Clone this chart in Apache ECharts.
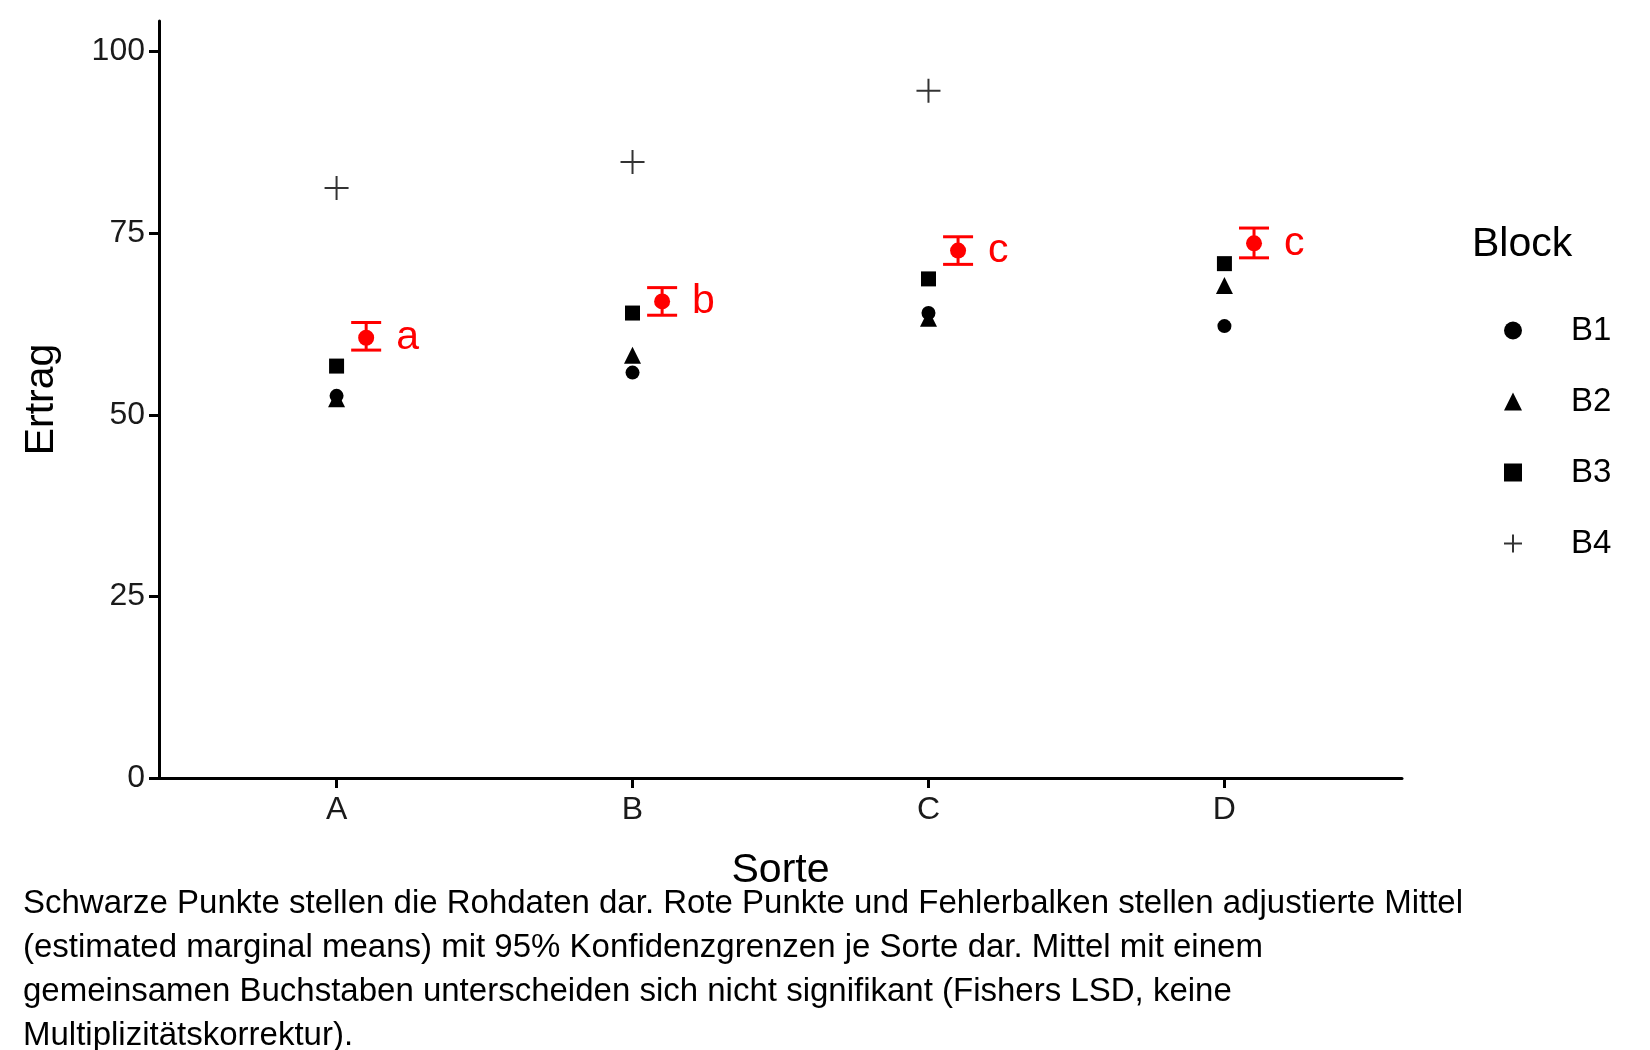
<!DOCTYPE html>
<html>
<head>
<meta charset="UTF-8">
<script src="https://cdn.jsdelivr.net/npm/echarts@6/dist/echarts.min.js"></script>
<style>body{margin:0;background:#fff}</style>
</head>
<body>
<div id="main" style="width:1650px;height:1050px;"></div>
<script>
    var sorten = ['A', 'B', 'C', 'D']
    var b1 = [52.6, 55.8, 64.0, 62.2]
    var b2 = [52.2, 58.2, 63.3, 67.8]
    var b3 = [56.7, 64.0, 68.7, 70.8]
    var b4 = [81.2, 84.8, 94.6, null]
    var emmean = [60.6, 65.6, 72.6, 73.6]
    var lower = [58.9, 63.7, 70.7, 71.6]
    var upper = [62.7, 67.5, 74.5, 75.7]
    var letters = ['a', 'b', 'c', 'c']

    var font = 'Liberation Sans, Arial, sans-serif'
    var plus = 'path://M0,-10V10M-10,0H10'

    function pts(arr) {
        var out = []
        arr.forEach(function (v, i) { if (v != null) out.push([i + 1, v]) })
        return out
    }
    function block(name, arr, symbol, size) {
        var isPlus = symbol === plus
        return {
            name: name, type: 'scatter', data: pts(arr), symbol: symbol, symbolSize: size,
            itemStyle: isPlus ? {color: 'transparent', borderColor: '#000', borderWidth: 2} : {color: '#000', opacity: 1}
        }
    }

    var chart = echarts.init(document.getElementById('main'))
    chart.setOption({
        animation: false,
        grid: {left: 159, right: 248, top: 21, bottom: 272},
        xAxis: {
            type: 'value', min: 0.4, max: 4.6,
            name: 'Sorte', nameLocation: 'middle', nameGap: 72,
            nameTextStyle: {fontSize: 41, color: '#000', fontFamily: font},
            splitLine: {show: false},
            axisLine: {lineStyle: {color: '#000', width: 3}},
            axisTick: {show: true, length: 10, lineStyle: {color: '#000', width: 3}, customValues: [1, 2, 3, 4]},
            axisLabel: {
                customValues: [1, 2, 3, 4], fontSize: 32, color: '#1a1a1a', fontFamily: font, margin: 16,
                formatter: function (v) { return sorten[Math.round(v) - 1] }
            }
        },
        yAxis: {
            type: 'value', min: 0, max: 104.2,
            name: 'Ertrag', nameLocation: 'middle', nameGap: 97,
            nameTextStyle: {fontSize: 41, color: '#000', fontFamily: font},
            splitLine: {show: false},
            axisLine: {show: true, lineStyle: {color: '#000', width: 3}},
            axisTick: {show: true, length: 10, lineStyle: {color: '#000', width: 3}, customValues: [0, 25, 50, 75, 100]},
            axisLabel: {customValues: [0, 25, 50, 75, 100], fontSize: 32, color: '#1a1a1a', fontFamily: font, margin: 14}
        },
        legend: {
            orient: 'vertical', left: 1498, top: 309, itemGap: 38, itemWidth: 18, itemHeight: 18,
            textStyle: {fontSize: 33, color: '#000', fontFamily: font, padding: [0, 0, 0, 44]},
            data: [
                {name: 'B1', icon: 'circle', itemStyle: {color: '#000'}},
                {name: 'B2', icon: 'triangle', itemStyle: {color: '#000'}},
                {name: 'B3', icon: 'rect', itemStyle: {color: '#000'}},
                {name: 'B4', icon: plus, itemStyle: {color: 'transparent', borderColor: '#000', borderWidth: 2}}
            ]
        },
        graphic: [
            {type: 'text', left: 1472, top: 224, style: {text: 'Block', fontSize: 41, fill: '#000', fontFamily: font}},
            {type: 'text', left: 23, top: 882, style: {
                text: 'Schwarze Punkte stellen die Rohdaten dar. Rote Punkte und Fehlerbalken stellen adjustierte Mittel\n(estimated marginal means) mit 95% Konfidenzgrenzen je Sorte dar. Mittel mit einem\ngemeinsamen Buchstaben unterscheiden sich nicht signifikant (Fishers LSD, keine\nMultiplizitätskorrektur).',
                fontSize: 33, lineHeight: 44, fill: '#000', fontFamily: font}}
        ],
        series: [
            block('B1', b1, 'circle', 14),
            block('B2', b2, 'triangle', 17),
            block('B3', b3, 'rect', 15),
            block('B4', b4, plus, 24),
            {
                type: 'custom',
                data: emmean.map(function (v, i) { return [i + 1.1, lower[i], upper[i]] }),
                renderItem: function (params, api) {
                    var lo = api.coord([api.value(0), api.value(1)])
                    var hi = api.coord([api.value(0), api.value(2)])
                    var w = 15
                    var st = {stroke: '#ff0000', lineWidth: 3}
                    return {type: 'group', children: [
                        {type: 'line', shape: {x1: lo[0], y1: lo[1], x2: hi[0], y2: hi[1]}, style: st},
                        {type: 'line', shape: {x1: lo[0] - w, y1: lo[1], x2: lo[0] + w, y2: lo[1]}, style: st},
                        {type: 'line', shape: {x1: hi[0] - w, y1: hi[1], x2: hi[0] + w, y2: hi[1]}, style: st}
                    ]}
                },
                z: 3
            },
            {
                type: 'scatter', symbol: 'circle', symbolSize: 16,
                itemStyle: {color: '#ff0000', opacity: 1},
                data: emmean.map(function (v, i) { return [i + 1.1, v] }),
                label: {
                    show: true, position: 'right', distance: 22, fontSize: 41, color: '#ff0000', fontFamily: font,
                    formatter: function (p) { return letters[p.dataIndex] }
                },
                z: 4
            }
        ]
    })
</script>
</body>
</html>
